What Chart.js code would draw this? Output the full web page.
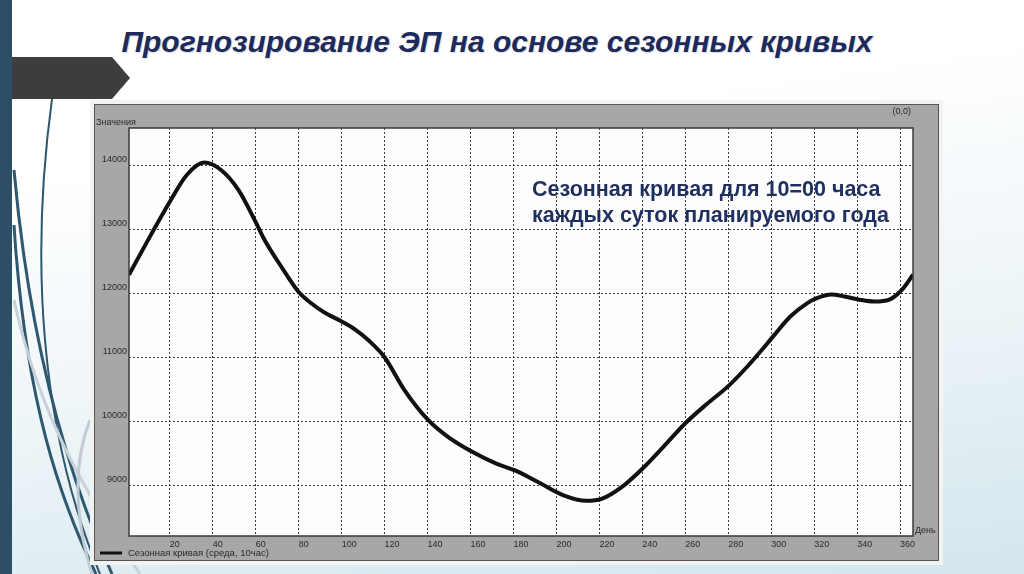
<!DOCTYPE html>
<html lang="ru">
<head>
<meta charset="utf-8">
<title>Сезонная кривая</title>
<script src="https://cdn.jsdelivr.net/npm/chart.js@4.4.1/dist/chart.umd.min.js"></script>
<style>
html, body { margin: 0; padding: 0; }
body {
  width: 1024px; height: 574px; overflow: hidden; position: relative;
  font-family: "Liberation Sans", Arial, sans-serif;
  background: linear-gradient(172deg, #ffffff 25%, #eef5f8 60%, #d3e6ed 100%);
}
#bar { position: absolute; left: 0; top: 0; width: 12px; height: 574px; background: #2c4f66; }
#deco { position: absolute; left: 0; top: 0; }
#title {
  position: absolute; left: 0; top: 25px; width: 994px; text-align: center;
  font: italic bold 30px/34px "Liberation Sans", Arial, sans-serif;
  color: #1d2a5e; text-shadow: 1px 1px 1px rgba(0,0,0,0.15);
}
#frame {
  position: absolute; left: 94px; top: 104px; width: 843px; height: 455px;
  background: #a7a7a7; border: 1px solid #555; box-shadow: 0 0 0 4px #f3f3f3;
}
#frame canvas { position: absolute; left: 0; top: 0; }
#note {
  position: absolute; left: 532px; top: 176px;
  font: bold 21.5px/26px "Liberation Sans", Arial, sans-serif; color: #1f2f5f;
}
</style>
</head>
<body>

<div id="bar"></div>
<svg id="deco" width="200" height="574">
  <path d="M12,57 L112,57 L130,78 L112,99 L12,99 Z" fill="#3d3d3d"/>
  <path d="M52,99 C30,260 40,430 100,574" stroke="#2e5870" stroke-width="2" fill="none"/>
  <path d="M14,170 C30,350 70,480 112,574" stroke="#2e5870" stroke-width="3" fill="none"/>
  <path d="M14,225 C25,400 60,500 96,574" stroke="#2e5870" stroke-width="3" fill="none"/>
  <path d="M14,300 C40,420 90,500 140,574" stroke="#c6d2d8" stroke-width="3" fill="none"/>
  <path d="M90,420 C70,470 78,530 92,574" stroke="#c0ccd3" stroke-width="3" fill="none"/>
</svg>

<div id="title">Прогнозирование ЭП на основе сезонных кривых</div>

<div id="frame"><canvas id="grafico" width="843" height="455"></canvas></div>

<div id="note">Сезонная кривая для 10=00 часа<br>каждых суток планируемого года</div>

<script>
// ===============================
// DATOS
// ===============================
const dias = [1, 11, 20, 28, 36, 44, 52, 60, 64, 72, 80, 86, 92, 100, 106, 113, 120, 129, 140, 149,
  161, 172, 181, 191, 203, 214, 221, 231, 240, 250, 260, 270, 280, 289, 295, 301, 309, 317, 321,
  328, 334, 341, 348, 355, 361, 366];
const valores = [12290, 12900, 13430, 13850, 14040, 13920, 13610, 13110, 12840, 12410, 12020, 11840,
  11700, 11560, 11440, 11250, 11000, 10500, 10030, 9770, 9520, 9340, 9230, 9060, 8850, 8760, 8790,
  8990, 9260, 9610, 9970, 10270, 10550, 10860, 11090, 11330, 11640, 11850, 11920, 11980, 11950,
  11900, 11870, 11900, 12060, 12290];

const ticksX = [20, 40, 60, 80, 100, 120, 140, 160, 180, 200, 220, 240, 260, 280, 300, 320, 340, 360];
const ticksY = [9000, 10000, 11000, 12000, 13000, 14000];

const serie = "Сезонная кривая (среда, 10час)";
const tituloY = "Значения";
const tituloX = "День";
const esquina = "(0,0)";

// ===============================
// TEXTOS DEL MARCO
// ===============================
const marco = {
  id: "marco",
  beforeDraw(chart) {
    const { ctx, chartArea: a } = chart;
    ctx.save();
    ctx.fillStyle = "#fdfdfd";
    ctx.fillRect(a.left, a.top, a.right - a.left, a.bottom - a.top);
    ctx.restore();
  },
  afterDraw(chart) {
    const { ctx, chartArea: a } = chart;
    ctx.save();
    ctx.strokeStyle = "#3a3a3a";
    ctx.lineWidth = 1.5;
    ctx.strokeRect(a.left, a.top, a.right - a.left, a.bottom - a.top);

    ctx.font = '9px "Liberation Sans"';
    ctx.fillStyle = "#2a2a2a";
    ctx.textBaseline = "middle";
    ctx.textAlign = "left";
    ctx.fillText(tituloY, 1, 18);
    ctx.fillText(tituloX, a.right + 2, a.bottom - 5);
    ctx.textAlign = "right";
    ctx.fillText(esquina, a.right - 2, 7);

    // leyenda
    const ds = chart.data.datasets[0];
    ctx.strokeStyle = ds.borderColor;
    ctx.lineWidth = 3;
    ctx.beginPath();
    ctx.moveTo(5, 448);
    ctx.lineTo(27, 448);
    ctx.stroke();
    ctx.textAlign = "left";
    ctx.font = '9.5px "Liberation Sans"';
    ctx.fillText(ds.label, 33, 448);
    ctx.restore();
  }
};

// ===============================
// GRAFICO
// ===============================
const fuente = { family: "Liberation Sans", size: 9 };

new Chart(document.getElementById("grafico"), {
  type: "line",
  data: {
    datasets: [{
      label: serie,
      data: dias.map((d, i) => ({ x: d, y: valores[i] })),
      borderColor: "#111111",
      borderWidth: 4,
      pointRadius: 0,
      cubicInterpolationMode: "monotone",
      fill: false
    }]
  },
  options: {
    responsive: false,
    animation: false,
    layout: { padding: { left: 0, top: 23, right: 25, bottom: 10 } },
    plugins: { legend: { display: false }, tooltip: { enabled: false } },
    scales: {
      x: {
        type: "linear",
        min: 1,
        max: 366,
        afterBuildTicks: s => { s.ticks = ticksX.map(v => ({ value: v })); },
        afterFit: s => { s.height = 14; },
        grid: { color: "#3c3c3c", lineWidth: 1, drawTicks: false },
        border: { display: false, dash: [2, 2] },
        ticks: { font: fuente, color: "#2a2a2a", align: "start", padding: 3, maxRotation: 0,
          callback: v => String(v) }
      },
      y: {
        min: 8210,
        max: 14580,
        afterBuildTicks: s => { s.ticks = ticksY.map(v => ({ value: v })); },
        afterFit: s => { s.width = 34; },
        grid: { color: "#3c3c3c", lineWidth: 1, drawTicks: false },
        border: { display: false, dash: [2, 2] },
        ticks: { font: fuente, color: "#2a2a2a", padding: 2, labelOffset: -6,
          callback: v => String(v) }
      }
    }
  },
  plugins: [marco]
});
</script>
</body>
</html>
